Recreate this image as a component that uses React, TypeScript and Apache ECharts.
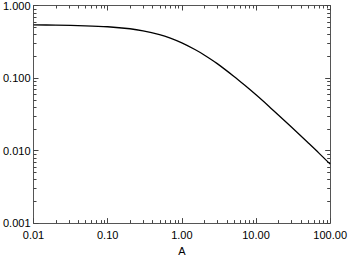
import React, { useEffect, useRef } from "react";
import * as echarts from "echarts";

// Curve samples (A, value)
const aValues = [0.01, 0.02, 0.05, 0.1, 0.2, 0.3, 0.5, 0.7, 1, 1.5, 2, 3, 5, 7, 10, 15, 20, 30, 50, 70, 100];
const curveValues = [
  0.54, 0.536, 0.525, 0.509, 0.478, 0.448, 0.397, 0.355, 0.305, 0.247, 0.208, 0.158, 0.106, 0.08,
  0.0587, 0.0406, 0.031, 0.0211, 0.0129, 0.0093, 0.0065,
];

const xMin = 0.01;
const xMax = 100;
const yMin = 0.001;
const yMax = 1;
const xDecades = [0.01, 0.1, 1, 10];
const yDecades = [0.001, 0.01, 0.1];
const minorMultipliers = [2, 3, 4, 5, 6, 7, 8, 9];

const xMinor: number[] = [];
xDecades.forEach((d) => minorMultipliers.forEach((m) => xMinor.push(+(d * m).toPrecision(3))));
const yMinor: number[] = [];
yDecades.forEach((d) => minorMultipliers.forEach((m) => yMinor.push(+(d * m).toPrecision(3))));

const AXIS_COLOR = "#555";
const TICK_COLOR = "#444";
const FONT = "'Liberation Sans', Arial, Helvetica, sans-serif";
const MINOR_LEN = 3;

export default function App() {
  const ref = useRef<HTMLDivElement>(null);
  useEffect(() => {
    if (!ref.current) return;
    const chart = echarts.init(ref.current, undefined, { renderer: "svg" });
    const majorTick = { show: true, inside: true, length: 5, lineStyle: { color: TICK_COLOR, width: 1 } };
    const axisLine = { show: true, onZero: false, lineStyle: { color: AXIS_COLOR, width: 1 } };
    const tickStyle = () => ({ stroke: TICK_COLOR, lineWidth: 1 });
    chart.setOption({
      animation: false,
      backgroundColor: "#fff",
      grid: { left: 33, right: 17, top: 3, bottom: 27, containLabel: false },
      xAxis: [
        {
          type: "log",
          logBase: 10,
          min: xMin,
          max: xMax,
          name: "A",
          nameLocation: "middle",
          nameGap: 19,
          nameTextStyle: { color: "#000", fontFamily: FONT, fontSize: 11 },
          axisLine,
          axisTick: majorTick,
          splitLine: { show: false },
          axisLabel: {
            color: "#000",
            fontFamily: FONT,
            fontSize: 11,
            margin: 6,
            formatter: (v: number) => v.toFixed(2),
          },
        },
        {
          type: "log",
          logBase: 10,
          min: xMin,
          max: xMax,
          position: "top",
          axisLine,
          axisTick: majorTick,
          splitLine: { show: false },
          axisLabel: { show: false },
        },
      ],
      yAxis: [
        {
          type: "log",
          logBase: 10,
          min: yMin,
          max: yMax,
          axisLine,
          axisTick: majorTick,
          splitLine: { show: false },
          axisLabel: {
            color: "#000",
            fontFamily: FONT,
            fontSize: 11,
            margin: 3,
            formatter: (v: number) => v.toFixed(3),
          },
        },
        {
          type: "log",
          logBase: 10,
          min: yMin,
          max: yMax,
          position: "right",
          axisLine,
          axisTick: majorTick,
          splitLine: { show: false },
          axisLabel: { show: false },
        },
      ],
      series: [
        {
          type: "line",
          data: aValues.map((a, i) => [a, curveValues[i]]),
          smooth: 0.3,
          showSymbol: false,
          lineStyle: { color: "#000", width: 1.3 },
          xAxisIndex: 0,
          yAxisIndex: 0,
          z: 5,
        },
        {
          type: "custom",
          silent: true,
          clip: false,
          xAxisIndex: 0,
          yAxisIndex: 0,
          data: xMinor.map((v) => [v, yMin]),
          renderItem: (params: any, api: any) => {
            const v = xMinor[params.dataIndex];
            const b = api.coord([v, yMin]);
            const t = api.coord([v, yMax]);
            const x = Math.round(b[0]) + 0.5;
            return {
              type: "group",
              children: [
                { type: "line", shape: { x1: x, y1: b[1], x2: x, y2: b[1] - MINOR_LEN }, style: tickStyle() },
                { type: "line", shape: { x1: x, y1: t[1], x2: x, y2: t[1] + MINOR_LEN }, style: tickStyle() },
              ],
            };
          },
        },
        {
          type: "custom",
          silent: true,
          clip: false,
          xAxisIndex: 0,
          yAxisIndex: 0,
          data: yMinor.map((v) => [xMin, v]),
          renderItem: (params: any, api: any) => {
            const v = yMinor[params.dataIndex];
            const l = api.coord([xMin, v]);
            const r = api.coord([xMax, v]);
            const y = Math.round(l[1]) + 0.5;
            return {
              type: "group",
              children: [
                { type: "line", shape: { x1: l[0], y1: y, x2: l[0] + MINOR_LEN, y2: y }, style: tickStyle() },
                { type: "line", shape: { x1: r[0], y1: y, x2: r[0] - MINOR_LEN, y2: y }, style: tickStyle() },
              ],
            };
          },
        },
      ],
    });
    return () => chart.dispose();
  }, []);
  return (
    <div
      ref={ref}
      style={{ position: "fixed", left: 0, top: 0, width: 350, height: 261, background: "#fff" }}
    />
  );
}
